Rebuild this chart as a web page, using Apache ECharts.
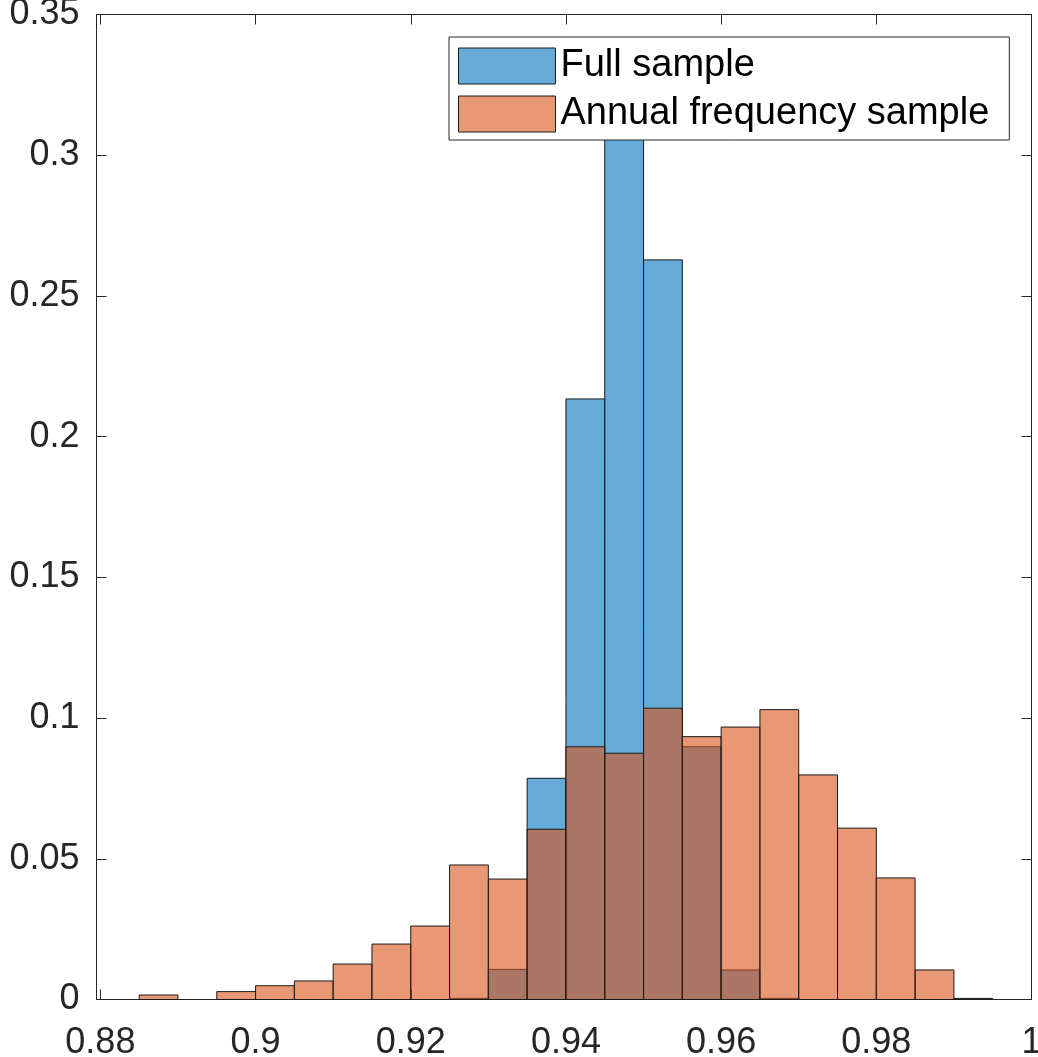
<!DOCTYPE html>
<html>
<head>
<meta charset="utf-8">
<script src="https://cdn.jsdelivr.net/npm/echarts@6/dist/echarts.min.js"></script>
<style>
html,body{margin:0;padding:0;background:#fff;}
#chart{width:1038px;height:1057px;}
</style>
</head>
<body>
<div id="chart"></div>
<script>
// Histogram bin left edges (bin width 0.005)
const binStarts = [0.885, 0.89, 0.895, 0.9, 0.905, 0.91, 0.915, 0.92, 0.925, 0.93, 0.935, 0.94,
                   0.945, 0.95, 0.955, 0.96, 0.965, 0.97, 0.975, 0.98, 0.985, 0.99];
const binEnds   = [0.89, 0.895, 0.9, 0.905, 0.91, 0.915, 0.92, 0.925, 0.93, 0.935, 0.94, 0.945,
                   0.95, 0.955, 0.96, 0.965, 0.97, 0.975, 0.98, 0.985, 0.99, 0.995];
const fullSample   = [0, 0, 0, 0, 0, 0, 0, 0, 0.0004, 0.0107, 0.0786, 0.2134,
                      0.33, 0.2628, 0.0898, 0.0105, 0.0004, 0, 0, 0, 0, 0.0004];
const annualSample = [0.0016, 0, 0.0028, 0.0049, 0.0066, 0.0126, 0.0197, 0.0261, 0.0478, 0.0428, 0.0605, 0.0898,
                      0.0875, 0.1035, 0.0934, 0.0968, 0.103, 0.0798, 0.0609, 0.0432, 0.0105, 0];
const xTicks = [0.88, 0.9, 0.92, 0.94, 0.96, 0.98, 1];
const seriesNames = ['Full sample', 'Annual frequency sample'];

const BLUE = 'rgba(0,114,189,0.6)';
const ORANGE = 'rgba(217,83,25,0.6)';
const EDGE = '#1a1a1a';
const AX = '#262626';
const FONT = '"Liberation Sans", Arial, Helvetica, sans-serif';

function toData(vals){
  return vals.map((v,i)=>[binStarts[i], binEnds[i], v]);
}
function makeRender(color){
  return function(params, api){
    const v = api.value(2);
    if (!v) return null;
    const p0 = api.coord([api.value(0), 0]);
    const p1 = api.coord([api.value(1), v]);
    return {
      type:'rect',
      shape:{x:p0[0], y:p1[1], width:p1[0]-p0[0], height:p0[1]-p1[1]},
      style:{fill:color, stroke:EDGE, lineWidth:1}
    };
  };
}

const chart = echarts.init(document.getElementById('chart'), null, {renderer:'canvas'});
const xMin = 0.8795, xMax = 1;
const option = {
  animation:false,
  backgroundColor:'#fff',
  grid:{left:96.5, right:6.5, top:14.5, bottom:57.5, containLabel:false, outerBoundsMode:'none'},
  legend:{
    data:seriesNames,
    orient:'vertical',
    left:449, top:37,
    padding:[10,20,7,9],
    itemGap:10,
    itemWidth:97, itemHeight:36,
    icon:'rect',
    backgroundColor:'#fff',
    borderColor:AX, borderWidth:1,
    itemStyle:{borderColor:EDGE, borderWidth:1},
    textStyle:{fontSize:38, color:'#000', fontFamily:FONT},
    selectedMode:false
  },
  xAxis:[{
    type:'value', min:xMin, max:xMax, position:'bottom',
    axisLine:{show:true, onZero:false, lineStyle:{color:AX, width:1}},
    axisTick:{show:true, inside:true, length:10, customValues:xTicks, lineStyle:{color:AX}},
    axisLabel:{show:true, customValues:xTicks, margin:26, fontSize:36, color:AX, fontFamily:FONT,
      formatter:v=>String(+v.toFixed(2))},
    splitLine:{show:false}
  },{
    type:'value', min:xMin, max:xMax, position:'top',
    axisLine:{show:true, onZero:false, lineStyle:{color:AX, width:1}},
    axisTick:{show:true, inside:true, length:10, customValues:xTicks, lineStyle:{color:AX}},
    axisLabel:{show:false},
    splitLine:{show:false}
  }],
  yAxis:[{
    type:'value', min:0, max:0.35, interval:0.05, position:'left',
    axisLine:{show:true, onZero:false, lineStyle:{color:AX, width:1}},
    axisTick:{show:true, inside:true, length:10, lineStyle:{color:AX}},
    axisLabel:{show:true, margin:17, fontSize:36, color:AX, fontFamily:FONT,
      formatter:v=>String(+v.toFixed(2))},
    splitLine:{show:false}
  },{
    type:'value', min:0, max:0.35, interval:0.05, position:'right',
    axisLine:{show:true, onZero:false, lineStyle:{color:AX, width:1}},
    axisTick:{show:true, inside:true, length:10, lineStyle:{color:AX}},
    axisLabel:{show:false},
    splitLine:{show:false}
  }],
  series:[{
    name:seriesNames[0], type:'custom',
    xAxisIndex:0, yAxisIndex:0,
    renderItem:makeRender(BLUE),
    encode:{x:[0,1], y:2},
    itemStyle:{color:BLUE, borderColor:EDGE, borderWidth:1},
    data:toData(fullSample), z:2
  },{
    name:seriesNames[1], type:'custom',
    xAxisIndex:0, yAxisIndex:0,
    renderItem:makeRender(ORANGE),
    encode:{x:[0,1], y:2},
    itemStyle:{color:ORANGE, borderColor:EDGE, borderWidth:1},
    data:toData(annualSample), z:3
  }]
};
chart.setOption(option);
</script>
</body>
</html>
